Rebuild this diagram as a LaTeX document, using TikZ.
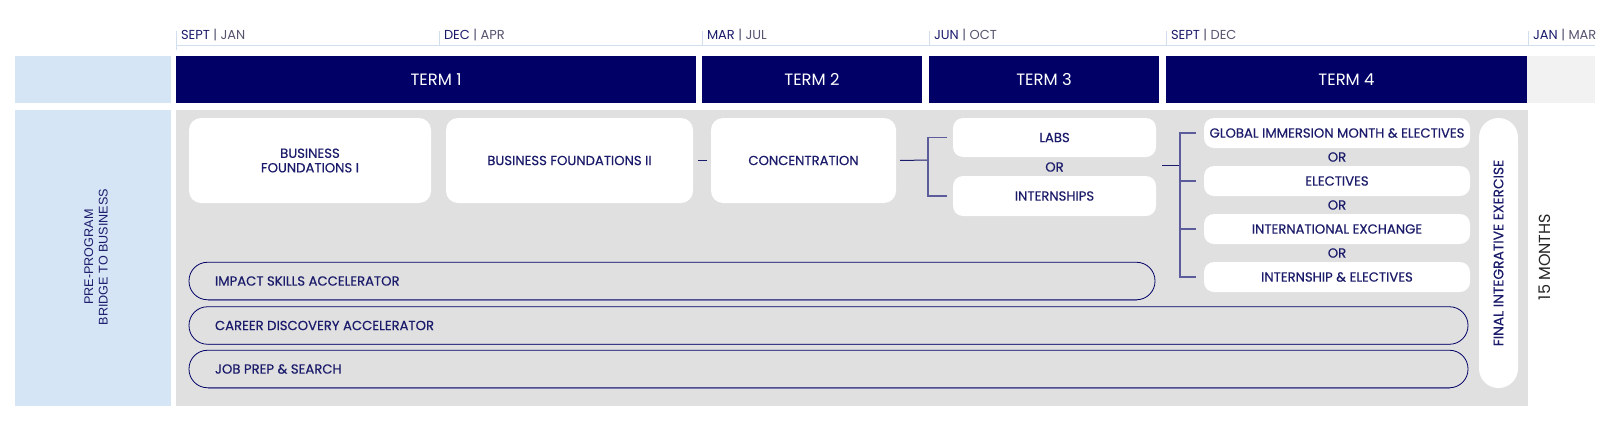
\documentclass[tikz,border=0pt]{standalone}
\usepackage{fontspec}
\setmainfont{Poppins}
\newfontfamily\medfont{Poppins}[FakeBold=0.4]
\newfontfamily\sidefont{Liberation Sans}
\usetikzlibrary{calc}
\definecolor{navy}{HTML}{000066}
\definecolor{txt}{HTML}{1B1B6B}
\definecolor{lblue}{HTML}{D5E5F6}
\definecolor{bodygrey}{HTML}{E0E0E0}
\definecolor{topgrey}{HTML}{F2F2F2}
\definecolor{tickc}{HTML}{D0DEEE}
\definecolor{linec}{HTML}{5C5C9C}
\definecolor{datec}{HTML}{555570}
\definecolor{shadowc}{HTML}{8C8CB8}
\begin{document}
\begin{tikzpicture}[x=1pt,y=-1pt,
  every node/.style={inner sep=0pt,outer sep=0pt,font=\medfont\fontsize{13.2}{14.5}\selectfont,text=txt},
  termbox/.style={fill=navy,minimum height=47,text=white,font=\fontsize{16.4}{18}\selectfont},
  flat/.style={minimum height=296},
  wbox/.style={fill=white,rounded corners=12pt,align=center},
  sbox/.style={fill=white,rounded corners=10pt,align=center},
  orlab/.style={},
  bar/.style={draw=navy,line width=0.8pt,fill=bodygrey,rounded corners=18.5pt,minimum height=37.5},
  barlab/.style={anchor=west},
  datelab/.style={anchor=west,font=\fontsize{13}{14}\selectfont},
  tick/.style={draw=tickc,line width=0.8pt},
  conn/.style={draw=linec,line width=1.2pt},
  conn2/.style={draw=txt,line width=1pt}
]
\useasboundingbox (0,0) rectangle (1614,426);
% timeline
\draw[tick] (176,45) -- (1595,45);
\draw[tick] (176,31) -- (176,50);
\foreach \x in {439,702,929,1166,1528} \draw[tick] (\x,31) -- (\x,45);
\node[datelab] (d1) at (181,35) {SEPT \textcolor{datec}{| JAN}};
\node[datelab] (d2) at (444,35) {DEC \textcolor{datec}{| APR}};
\node[datelab] (d3) at (707,35) {MAR \textcolor{datec}{| JUL}};
\node[datelab] (d4) at (934,35) {JUN \textcolor{datec}{| OCT}};
\node[datelab] (d5) at (1171,35) {SEPT \textcolor{datec}{| DEC}};
\node[datelab] (d6) at (1533,35) {JAN \textcolor{datec}{| MAR}};
% header row
\node[fill=lblue,minimum width=156,minimum height=47] (bluetop) at (93,79.5) {};
\node[termbox,minimum width=520] (t1) at (436,79.5) {TERM 1};
\node[termbox,minimum width=220] (t2) at (812,79.5) {TERM 2};
\node[termbox,minimum width=230] (t3) at (1044,79.5) {TERM 3};
\node[termbox,minimum width=361] (t4) at (1346.5,79.5) {TERM 4};
\node[fill=topgrey,minimum width=68,minimum height=47] (greytop) at (1561,79.5) {};
% body
\node[fill=lblue,flat,minimum width=156] (bluebody) at (93,258) {};
\node[rotate=90,align=center,font=\sidefont\fontsize{12.6}{14.5}\selectfont] (pre) at (96,257) {PRE-PROGRAM\\BRIDGE TO BUSINESS};
\node[fill=bodygrey,flat,minimum width=1352] (greybody) at (852,258) {};
\node[rotate=90,text=black!85,font=\rmfamily\fontsize{16}{18}\selectfont] (months) at (1545,257) {15 MONTHS};
% term 1-2 boxes
\node[wbox,minimum width=242,minimum height=85] (bf1) at (310,160.5) {BUSINESS\\FOUNDATIONS I};
\node[wbox,minimum width=247,minimum height=85] (bf2) at (569.5,160.5) {BUSINESS FOUNDATIONS II};
\node[wbox,minimum width=185,minimum height=85] (conc) at (803.5,160.5) {CONCENTRATION};
% term 3
\node[sbox,minimum width=203,minimum height=39] (labs) at (1054.5,137.5) {LABS};
\node[orlab] (ora) at (1054.5,167) {OR};
\node[sbox,minimum width=203,minimum height=40] (intern) at (1054.5,196) {INTERNSHIPS};
% term 4
\node[sbox,minimum width=266,minimum height=30] (g1) at (1337,133) {GLOBAL IMMERSION MONTH \& ELECTIVES};
\node[orlab] (or1) at (1337,157) {OR};
\node[sbox,minimum width=266,minimum height=30] (g2) at (1337,181) {ELECTIVES};
\node[orlab] (or2) at (1337,205) {OR};
\node[sbox,minimum width=266,minimum height=30] (g3) at (1337,229) {INTERNATIONAL EXCHANGE};
\node[orlab] (or3) at (1337,253) {OR};
\node[sbox,minimum width=266,minimum height=30] (g4) at (1337,277) {INTERNSHIP \& ELECTIVES};
\node[fill=white,rounded corners=19.5pt,minimum width=39,minimum height=270] (fin) at (1498.5,253) {};
\node[rotate=90,font=\medfont\fontsize{13.8}{15}\selectfont] (finlab) at (fin.center) {FINAL INTEGRATIVE EXERCISE};
% bars (with a faint lower shadow edge)
\foreach \nm/\cx/\cy/\w in {impact/672/281/966, career/828.5/325.5/1279, job/828.5/369/1279}{
  \draw[shadowc,line width=1.2pt] (\cx-\w/2+18.5,\cy+19.3) -- (\cx+\w/2-18.5,\cy+19.3);
}
\node[bar,minimum width=966] (impact) at (672,281) {};
\node[barlab] (impactl) at (215,281) {IMPACT SKILLS ACCELERATOR};
\node[bar,minimum width=1279] (career) at (828.5,325.5) {};
\node[barlab] (careerl) at (215,325.5) {CAREER DISCOVERY ACCELERATOR};
\node[bar,minimum width=1279] (job) at (828.5,369) {};
\node[barlab] (jobl) at (215,369) {JOB PREP \& SEARCH};
% connectors
\draw[conn2] ([xshift=5pt]bf2.east) -- ([xshift=-4pt]conc.west);
\coordinate (br1) at (928,160);
\draw[conn2] ([xshift=4pt]conc.east) -- (br1);
\draw[conn] ([xshift=-6pt]labs.west) -| (br1) |- ([xshift=-6pt]intern.west);
\coordinate (c2s) at (1162,165);
\coordinate (br2) at (1180,165);
\draw[conn2] (c2s) -- (br2);
\draw[conn] ([xshift=-8pt]g1.west) -- ++(-16,0) |- ([xshift=-8pt]g4.west);
\draw[conn] ([xshift=-8pt]g2.west) -- ++(-16,0);
\draw[conn] ([xshift=-8pt]g3.west) -- ++(-16,0);
\end{tikzpicture}
\end{document}
